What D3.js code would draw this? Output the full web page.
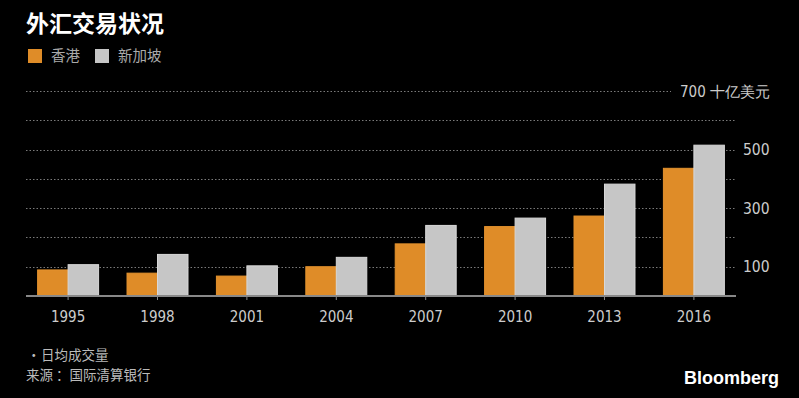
<!DOCTYPE html>
<html>
<head>
<meta charset="utf-8">
<script src="https://cdn.jsdelivr.net/npm/d3@7"></script>
<style>
  body { margin: 0; background: #000; }
  svg { display: block; font-family: "Noto Sans CJK SC", "DejaVu Sans", sans-serif; }
</style>
</head>
<body>
<svg id="chart" width="799" height="398"></svg>
<script>
let years = ['1995', '1998', '2001', '2004', '2007', '2010', '2013', '2016'];
let hongKong = [89, 78, 68, 100, 178, 237, 273, 436];
let singapore = [107, 142, 103, 132, 241, 266, 382, 515];
let seriesNames = ['香港', '新加坡'];
let gridValues = [100, 200, 300, 400, 500, 600, 700];
let tickLabels = [100, 300, 500];

let svg = d3.select('#chart');
let colors = ['#df8c28', '#c6c6c6'];
let numFont = '"DejaVu Sans Condensed", "Liberation Sans", sans-serif';

let x = d3.scaleBand()
    .domain(years)
    .range([26, 736])
    .paddingInner(0.318)
    .paddingOuter(0.13);

let x1 = d3.scaleBand()
    .domain([0, 1])
    .range([0, x.bandwidth()]);

let y = d3.scaleLinear()
    .domain([0, 700])
    .range([296, 91]);

svg.append('rect')
    .attr('width', 799)
    .attr('height', 398)
    .attr('fill', '#000');

//title + legend
svg.append('text')
    .attr('x', 26)
    .attr('y', 32)
    .attr('fill', '#fff')
    .attr('font-size', 23)
    .attr('font-weight', 'bold')
    .text('外汇交易状况');

let legend = svg.append('g');
seriesNames.forEach(function(name, i){
  let lx = [28, 95][i];
  legend.append('rect')
      .attr('x', lx)
      .attr('y', 49)
      .attr('width', 14)
      .attr('height', 14)
      .attr('fill', colors[i]);
  legend.append('text')
      .attr('x', lx + 23)
      .attr('y', 61)
      .attr('fill', '#aaa')
      .attr('font-size', 14.5)
      .text(name);
});

//dotted grid
svg.append('g')
  .selectAll('line')
  .data(gridValues)
  .enter().append('line')
    .attr('x1', 26)
    .attr('x2', function(d){ return d === 700 ? 671 : 736; })
    .attr('y1', function(d){ return Math.round(y(d)) + 0.5; })
    .attr('y2', function(d){ return Math.round(y(d)) + 0.5; })
    .attr('stroke', '#7a7a7a')
    .attr('stroke-width', 1)
    .attr('stroke-dasharray', '1.5,2');

//bars
let rows = years.map(function(yr, i){
  return {year: yr, values: [hongKong[i], singapore[i]]};
});

svg.append('g')
  .selectAll('g')
  .data(rows)
  .enter().append('g')
    .attr('transform', function(d){ return 'translate(' + x(d.year) + ',0)'; })
  .selectAll('rect')
  .data(function(d){ return d.values; })
  .enter().append('rect')
    .attr('x', function(d, i){ return x1(i); })
    .attr('y', function(d){ return y(d); })
    .attr('width', x1.bandwidth())
    .attr('height', function(d){ return y(0) - y(d); })
    .attr('fill', function(d, i){ return colors[i]; })
    .attr('stroke', function(d, i){ return i ? '#d8d8d8' : '#e3922e'; })
    .attr('stroke-width', 1);

//x axis
let xAxis = svg.append('g')
    .attr('transform', 'translate(0,' + y(0) + ')')
    .call(d3.axisBottom(x).tickSize(4).tickPadding(11));
xAxis.select('.domain')
    .attr('stroke', '#888')
    .attr('stroke-width', 2)
    .attr('d', 'M26,0H736');
xAxis.selectAll('.tick line').attr('stroke', '#888');
xAxis.selectAll('.tick text')
    .attr('fill', '#ccc')
    .attr('font-size', 15)
    .attr('font-family', numFont);

//right labels
svg.append('g')
  .selectAll('text')
  .data(tickLabels)
  .enter().append('text')
    .attr('x', 743)
    .attr('y', function(d){ return y(d) + 5.5; })
    .attr('fill', '#ccc')
    .attr('font-size', 15.5)
    .attr('font-family', numFont)
    .text(function(d){ return d; });

svg.append('text')
    .attr('x', 680)
    .attr('y', y(700) + 5.5)
    .attr('fill', '#ccc')
    .attr('font-size', 15)
    .attr('font-family', numFont)
    .text('700 十亿美元');

//notes
let note = svg.append('text')
    .attr('y', 360)
    .attr('fill', '#bbb')
    .attr('font-size', 13.5);
note.append('tspan')
    .attr('x', 27)
    .text('•');
note.append('tspan')
    .attr('x', 41)
    .text('日均成交量');

svg.append('text')
    .attr('x', 26)
    .attr('y', 380)
    .attr('fill', '#bbb')
    .attr('font-size', 13.5)
    .text('来源 ：国际清算银行');

svg.append('text')
    .attr('x', 779)
    .attr('y', 384)
    .attr('text-anchor', 'end')
    .attr('fill', '#fff')
    .attr('font-size', 18)
    .attr('font-weight', 'bold')
    .attr('font-family', '"Liberation Sans", Arial, sans-serif')
    .text('Bloomberg');
</script>
</body>
</html>
